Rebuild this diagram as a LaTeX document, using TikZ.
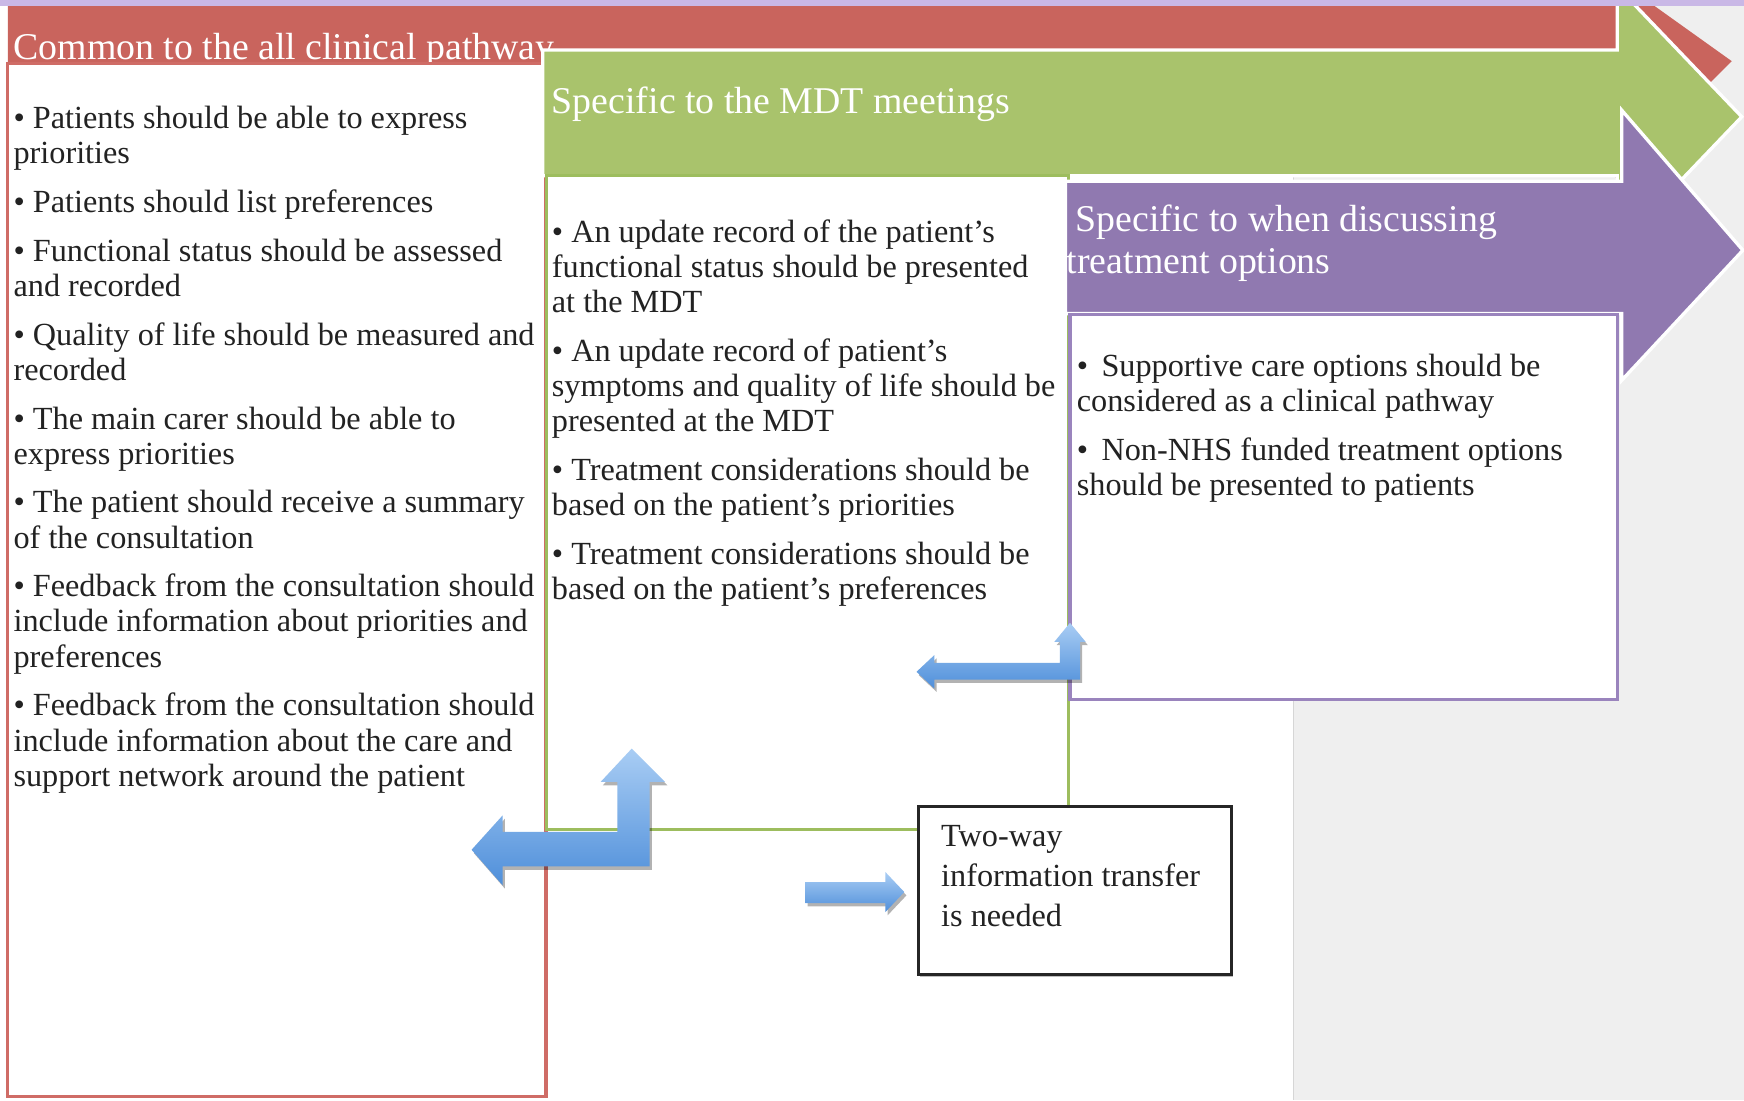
\documentclass[tikz,border=0pt]{standalone}
\usepackage{fontspec}
\setmainfont{Liberation Serif}
\usetikzlibrary{shadows}

\definecolor{bandlilac}{HTML}{C9B8E6}
\definecolor{pagegrey}{HTML}{EFEFEF}
\definecolor{seamgrey}{HTML}{D6D6D6}
\definecolor{redfill}{HTML}{C9645D}
\definecolor{redline}{HTML}{CF6C66}
\definecolor{greenfill}{HTML}{A9C36C}
\definecolor{greenline}{HTML}{9DBD5E}
\definecolor{purplefill}{HTML}{9079B0}
\definecolor{purpleline}{HTML}{9A84BD}
\definecolor{arrowtop}{HTML}{A9CDF4}
\definecolor{arrowbot}{HTML}{4F8FDA}
\definecolor{inktext}{HTML}{222222}

% strut that fixes the height of a first text line
\newcommand{\firstline}[1]{\rule{0pt}{#1}}

\begin{document}
\begin{tikzpicture}[x=1pt,y=-1pt,
  bodytext/.style={anchor=north west, inner sep=0pt, align=left,
    font=\fontsize{29pt}{31.5pt}\selectfont, text=inktext},
  headtext/.style={anchor=north west, inner sep=0pt, align=left,
    font=\fontsize{34pt}{38pt}\selectfont, text=white},
  bandarrow/.style={draw=white, line width=3pt, line join=miter},
  listbox/.style={fill=white, line width=3pt},
  bluearrow/.style={top color=arrowtop, bottom color=arrowbot, draw=none,
    drop shadow={shadow xshift=2pt, shadow yshift=-3pt, opacity=0.3, fill=black}},
]
\useasboundingbox (0,0) rectangle (1568,989);

% page background
\fill[white] (0,0) rectangle (1163,989);
\fill[pagegrey] (1163,0) rectangle (1568,989);
\draw[seamgrey, line width=1pt] (1163,0) -- (1163,989);

% red band: common to the whole pathway
\fill[redfill] (7,5) -- (1452,5) -- (1452,-20) -- (1557,55) -- (1452,160)
  -- (1452,57) -- (7,57) -- cycle;
\node[headtext] (commonhead) at (12,19) {\firstline{34pt}Common to the all clinical pathway};
\path[listbox, draw=redline] (7,57) rectangle (491,986);
\node[bodytext] (commonlist) at (12,85) {\firstline{30pt}• Patients should be able to express\\
priorities\\[12.5pt]
• Patients should list preferences\\[12.5pt]
• Functional status should be assessed\\
and recorded\\[12.5pt]
• Quality of life should be measured and\\
recorded\\[12.5pt]
• The main carer should be able to\\
express priorities\\[12.5pt]
• The patient should receive a summary\\
of the consultation\\[12.5pt]
• Feedback from the consultation should\\
include information about priorities and\\
preferences\\[12.5pt]
• Feedback from the consultation should\\
include information about the care and\\
support network around the patient};

% green band: MDT meetings
\path[bandarrow, fill=greenfill] (488,45) -- (1454,45) -- (1454,-12) -- (1566,105)
  -- (1454,222) -- (1454,158) -- (488,158) -- cycle;
\node[headtext] (mdthead) at (496,68) {\firstline{34pt}Specific to the MDT meetings};
\path[listbox, line width=2.5pt, draw=greenline] (491,158) rectangle (961,746);
\node[bodytext] (mdtlist) at (496,188) {\firstline{30pt}• An update record of the patient’s\\
functional status should be presented\\
at the MDT\\[12.5pt]
• An update record of patient’s\\
symptoms and quality of life should be\\
presented at the MDT\\[12.5pt]
• Treatment considerations should be\\
based on the patient’s priorities\\[12.5pt]
• Treatment considerations should be\\
based on the patient’s preferences};

% purple band: treatment options
\path[bandarrow, fill=purplefill] (958,163) -- (1458,163) -- (1458,99) -- (1567,225)
  -- (1458,342) -- (1458,282) -- (958,282) -- cycle;
\node[headtext] (treathead) at (959,174) {\firstline{34pt}\hspace{8pt}Specific to when discussing\\
treatment options};
\path[listbox, draw=purpleline] (962,283) rectangle (1454,629);
\node[bodytext] (treatlist) at (968,308) {\firstline{30pt}•\hspace{12pt}Supportive care options should be\\
considered as a clinical pathway\\[12.5pt]
•\hspace{12pt}Non-NHS funded treatment options\\
should be presented to patients};

% note box
\node[draw=black!85, line width=2.5pt, fill=white, minimum width=281.5pt,
  minimum height=151pt, anchor=north west, inner sep=0pt,
  drop shadow={shadow xshift=1.5pt, shadow yshift=-2pt, opacity=0.25, fill=black}]
  (notebox) at (824.5,724) {};
\node[bodytext, font=\fontsize{29pt}{36pt}\selectfont] (notetext) at (846,731)
  {\firstline{30pt}Two-way\\information transfer\\is needed};

% blue block arrows
\path[bluearrow] (424,764) -- (452,733) -- (452,748) -- (555,748) -- (555,703)
  -- (540,703) -- (568,673) -- (598,703) -- (584,703) -- (584,779)
  -- (452,779) -- (452,796) -- cycle;
\path[bluearrow] (824,604) -- (840,589) -- (840,596) -- (953,596) -- (953,577)
  -- (948,577) -- (962,560) -- (976,577) -- (971,577) -- (971,611)
  -- (840,611) -- (840,619) -- cycle;
\path[bluearrow] (724,793) -- (796,793) -- (796,784) -- (813,802) -- (796,820)
  -- (796,812) -- (724,812) -- cycle;

% lilac strip along the top edge
\fill[bandlilac] (0,0) rectangle (1568,5.5);
\end{tikzpicture}
\end{document}
